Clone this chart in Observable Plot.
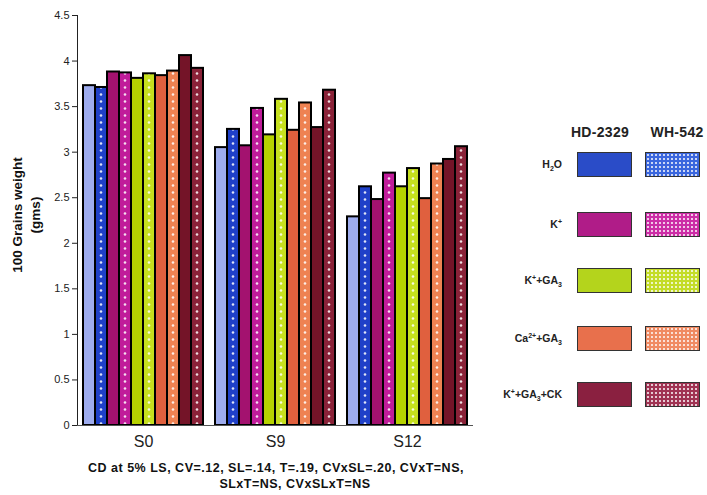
<!DOCTYPE html>
<html><head><meta charset="utf-8">
<script src="https://cdn.jsdelivr.net/npm/d3@7"></script>
<script src="https://cdn.jsdelivr.net/npm/@observablehq/plot@0.6"></script>
<style>
body{margin:0;background:#fff;font-family:"Liberation Sans",Arial,sans-serif;}
#wrap{position:relative;width:707px;height:495px;overflow:hidden;background:#fff;}
#chart{position:absolute;left:0;top:0;}
#chart svg [aria-label="fx-axis tick label"], #chart svg [aria-label="fx-axis tick label"] text{font-size:16px;}
.cap{position:absolute;width:500px;text-align:center;font-weight:bold;font-size:12.5px;letter-spacing:0.5px;line-height:16px;color:#111;white-space:nowrap;}
#ylabel{position:absolute;left:-63px;top:197px;width:180px;text-align:center;transform:rotate(-90deg);font-weight:bold;font-size:13.5px;line-height:18px;color:#111;}
.lg{position:absolute;font-weight:bold;color:#222;}
.hdr{font-size:14px;top:124px;width:90px;text-align:center;letter-spacing:0.3px;}
.lab{font-size:10.5px;width:110px;text-align:right;line-height:12px;}
.sw{position:absolute;width:55px;height:25px;border:1.5px solid #333;box-sizing:border-box;}
.dot{background-image:radial-gradient(circle, rgba(255,255,255,0.75) 0.7px, transparent 1.2px);background-size:4px 4px;}
sub,sup{font-size:7px;line-height:0;}
</style></head><body>
<svg width="0" height="0" style="position:absolute"><defs>
<pattern id="dots" patternUnits="userSpaceOnUse" width="12" height="7"><circle cx="6" cy="3.5" r="1.3" fill="#fff" fill-opacity="0.85"/></pattern>
</defs></svg>
<div id="wrap"><div id="chart"></div>
<div id="ylabel">100 Grains weight<br>(gms)</div>
<div class="cap" style="left:26px;top:460px;">CD at 5% LS, CV=.12, SL=.14, T=.19, CVxSL=.20, CVxT=NS,</div>
<div class="cap" style="left:45px;top:476px;">SLxT=NS, CVxSLxT=NS</div>
<div id="legend"></div>
</div>
<script>
const groups = ["S0", "S9", "S12"];
const series = ["HD-2329 H2O", "WH-542 H2O", "HD-2329 K+", "WH-542 K+", "HD-2329 K+GA3", "WH-542 K+GA3", "HD-2329 Ca2+GA3", "WH-542 Ca2+GA3", "HD-2329 K+GA3+CK", "WH-542 K+GA3+CK"];
const dotted = [false, true, false, true, false, true, false, true, false, true];
const barColors = ["#9eacee", "#1f40c8", "#a3126f", "#c01c9a", "#b6d200", "#c6e01e", "#e0603e", "#ee8252", "#741428", "#8a2238"];
const valuesS0 = [3.73, 3.71, 3.88, 3.87, 3.81, 3.86, 3.84, 3.89, 4.06, 3.92];
const valuesS9 = [3.05, 3.25, 3.07, 3.48, 3.19, 3.58, 3.24, 3.54, 3.27, 3.68];
const valuesS12 = [2.29, 2.62, 2.48, 2.77, 2.62, 2.82, 2.49, 2.87, 2.92, 3.06];
const yTicks = [0, 0.5, 1, 1.5, 2, 2.5, 3, 3.5, 4, 4.5];
const treatments = ["H<sub>2</sub>O", "K<sup>+</sup>", "K<sup>+</sup>+GA<sub>3</sub>", "Ca<sup>2+</sup>+GA<sub>3</sub>", "K<sup>+</sup>+GA<sub>3</sub>+CK"];
const legendHeaders = ["HD-2329", "WH-542"];
const legendSolid = ["#2a4cc8", "#b01c88", "#b4d41c", "#e8704c", "#8a2040"];
const legendDotted = ["#3a66de", "#cc2ca6", "#c4dc28", "#f08a62", "#a03252"];

const valuesByGroup = [valuesS0, valuesS9, valuesS12];
const data = [];
groups.forEach((g, gi) => series.forEach((s, si) => data.push({
  group: g, series: s, value: valuesByGroup[gi][si], color: barColors[si], dotted: dotted[si]
})));

const plot = Plot.plot({
  width: 707, height: 458,
  marginLeft: 77, marginRight: 234, marginTop: 15, marginBottom: 33,
  style: {fontFamily: "'Liberation Sans', Arial, sans-serif", fontSize: "11px", color: "#222", background: "transparent"},
  fx: {domain: groups, padding: 0, label: null, tickSize: 0, tickPadding: 10, axis: "bottom"},
  x: {domain: series, paddingInner: 0, paddingOuter: 0.5, axis: null},
  y: {domain: [0, 4.5], ticks: yTicks, tickFormat: d => String(d), tickSize: 5, tickPadding: 3, line: true, label: null},
  color: {type: "identity"},
  marks: [
    Plot.barY(data, {fx: "group", x: "series", y: "value", fill: "color", inset: 0}),
    Plot.barY(data.filter(d => d.dotted), {fx: "group", x: "series", y: "value", fill: "url(#dots)", inset: 0}),
    Plot.barY(data, {fx: "group", x: "series", y: "value", fill: "none", stroke: "#000", strokeWidth: 2, inset: 0}),
    Plot.ruleY([0], {stroke: "#555"})
  ]
});
document.getElementById("chart").appendChild(plot);

// centre the dot column of the pattern on the dotted bars
const dotRect = plot.querySelector('rect[fill="url(#dots)"]') || (plot.querySelector('g[fill="url(#dots)"] rect'));
if (dotRect) {
  const cx = dotRect.x.baseVal.value + dotRect.width.baseVal.value / 2;
  document.getElementById("dots").setAttribute("x", String(cx - 6));
}

// legend
const lg = document.getElementById("legend");
const hx = [555, 632];
legendHeaders.forEach((h, i) => {
  const d = document.createElement("div");
  d.className = "lg hdr"; d.style.left = hx[i] + "px"; d.textContent = h; lg.appendChild(d);
});
const rowTops = [152, 212, 268, 326, 382];
treatments.forEach((t, i) => {
  const l = document.createElement("div");
  l.className = "lg lab"; l.style.left = "452px"; l.style.top = (rowTops[i] + 6) + "px"; l.innerHTML = t; lg.appendChild(l);
  const a = document.createElement("div");
  a.className = "sw"; a.style.left = "577px"; a.style.top = rowTops[i] + "px"; a.style.backgroundColor = legendSolid[i]; lg.appendChild(a);
  const b = document.createElement("div");
  b.className = "sw dot"; b.style.left = "645px"; b.style.top = rowTops[i] + "px"; b.style.backgroundColor = legendDotted[i]; lg.appendChild(b);
});
</script>
</body></html>
